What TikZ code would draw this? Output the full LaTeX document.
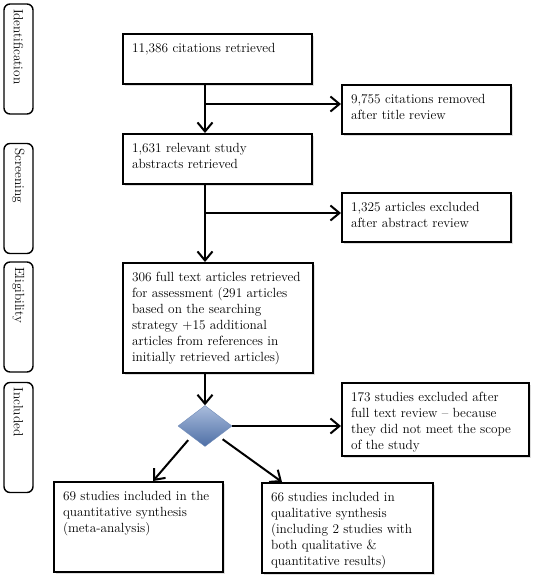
\documentclass[tikz,border=0pt]{standalone}
\usepackage{tikz}
\usetikzlibrary{shapes.geometric,arrows.meta,shadows}

\definecolor{diatop}{HTML}{A9BCDC}
\definecolor{diabot}{HTML}{4E6FA6}
\newcommand{\boxtext}[3]{\parbox[c][#2][t]{#1}{\raggedright #3}}

\begin{document}
\begin{tikzpicture}[x=1pt, y=-1pt,
	font=\fontsize{13.3}{16}\selectfont,
	box/.style={draw, fill=white, line width=2pt, inner sep=9pt,
		drop shadow={opacity=0.25, shadow xshift=1.5pt, shadow yshift=-1.5pt}},
	stage/.style={draw, rounded corners=6pt, line width=1.4pt, rotate=-90,
		inner xsep=5pt, inner ysep=0pt, text width=100pt, minimum height=29pt, align=left},
	arr/.style={->, >={Straight Barb[length=9pt, width=15pt]}, line width=2pt}]
				\useasboundingbox (0,0) rectangle (537,576);
				% stages of the review
				\node[stage] (ident) at (18.5,59) {Identification};
				\node[stage] (screen) at (18.5,198.5) {Screening};
				\node[stage] (elig) at (18.5,317) {Eligibility};
				\node[stage] (incl) at (18.5,437.5) {Included};
				
				% main column
				\node[box] (cites) at (217.5,59) {\boxtext{171pt}{32pt}{11,386 citations retrieved}};
				\node[box] (abstr) at (217.5,159) {\boxtext{171pt}{32pt}{1,631 relevant study\\ abstracts retrieved}};
				\node[box] (full) at (218,318) {\boxtext{172pt}{92pt}{306 full text articles retrieved\\ for assessment (291 articles\\ based on the searching\\ strategy +15 additional\\ articles from references in\\ initially retrieved articles)}};
				\node[diamond, draw=diabot!80, top color=diatop, bottom color=diabot,
					minimum width=54pt, minimum height=41pt, inner sep=0pt] (dec) at (205,426) {};
				
				% excluded records
				\node[box] (title) at (426.5,109.5) {\boxtext{151pt}{31pt}{9,755 citations removed\\ after title review}};
				\node[box] (absex) at (426.5,217.5) {\boxtext{151pt}{31pt}{1,325 articles excluded\\ after abstract review}};
				\node[box] (fullex) at (435.5,419.5) {\boxtext{169pt}{55pt}{173 studies excluded after\\ full text review -- because\\ they did not meet the scope\\ of the study}};
				
				% included studies
				\node[box] (quant) at (138.5,527) {\boxtext{151pt}{72pt}{69 studies included in the\\ quantitative synthesis\\ (meta-analysis)}};
				\node[box] (qual) at (347.5,528) {\boxtext{153pt}{72pt}{66 studies included in\\ qualitative synthesis\\ (including 2 studies with\\ both qualitative \&\\ quantitative results)}};
				
				\coordinate (titlein) at ([yshift=5.5pt]title.west);
				\coordinate (absexin) at ([yshift=4.5pt]absex.west);
				\draw[arr] (cites.south -| dec) -- (abstr.north -| dec);
				\draw[arr] (dec |- titlein) -- (titlein);
				\draw[arr] (abstr.south -| dec) -- (full.north -| dec);
				\draw[arr] (dec |- absexin) -- (absexin);
				\draw[arr] (full.south -| dec) -- (dec.north);
				\draw[arr] (dec.east) -- (dec.east -| fullex.west);
				\draw[arr, shorten <=5pt] (dec.south west) -- ([xshift=14.5pt]quant.north);
				\draw[arr, shorten <=5pt] (dec.south east) -- ([xshift=21pt]qual.north west);
\end{tikzpicture}
\end{document}
